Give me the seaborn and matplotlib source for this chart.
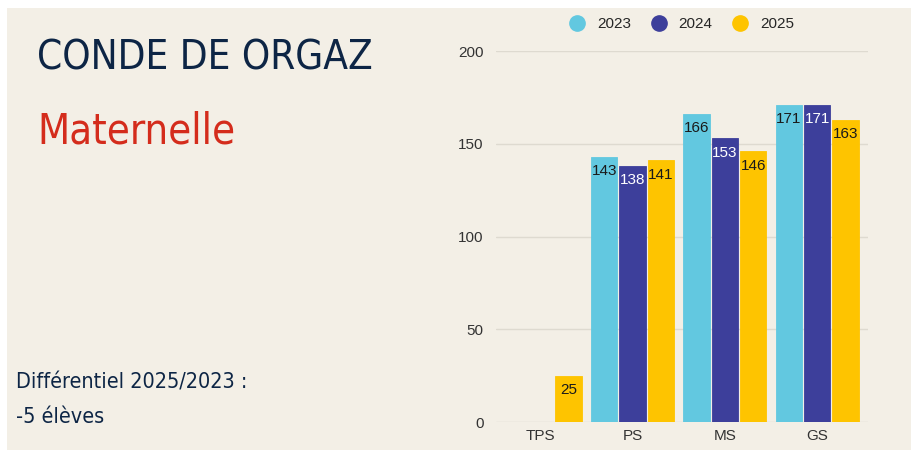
import matplotlib
matplotlib.use("Agg")
import matplotlib.pyplot as plt
from matplotlib.patches import Rectangle
from matplotlib.lines import Line2D
import seaborn as sns
import pandas as pd

categories = ["TPS", "PS", "MS", "GS"]
years = ["2023", "2024", "2025"]
v2023 = [0, 143, 166, 171]
v2024 = [0, 138, 153, 171]
v2025 = [25, 141, 146, 163]
yticks = [0, 50, 100, 150, 200]

colors = {"2023": "#62c8e0", "2024": "#3d3f9b", "2025": "#fec400"}
bg = "#f3efe6"

rows = []
for yr, vals in zip(years, [v2023, v2024, v2025]):
    for c, v in zip(categories, vals):
        rows.append({"niveau": c, "annee": yr, "eleves": v})
df = pd.DataFrame(rows)

sns.set_theme(style="white")
plt.rcParams["font.family"] = ["Liberation Sans", "DejaVu Sans"]

fig = plt.figure(figsize=(9.11, 4.5), dpi=100)
fig.patch.set_facecolor("white")
fig.patches.append(Rectangle((7 / 911, 0), 1, 442 / 450, transform=fig.transFigure,
                             facecolor=bg, edgecolor="none", zorder=-10))

ax = fig.add_axes([496 / 911, 28 / 450, 372 / 911, 371 / 450])
ax.set_facecolor(bg)
sns.barplot(data=df, x="niveau", y="eleves", hue="annee", palette=colors,
            order=categories, hue_order=years, width=0.92, gap=0.07,
            saturation=1, ax=ax, legend=False)

for cont, yr in zip(ax.containers, years):
    for bar in cont:
        h = bar.get_height()
        bar.set_edgecolor(bar.get_facecolor())
        bar.set_linewidth(0.6)
        if h <= 0:
            bar.set_visible(False)
            continue
        ax.text(bar.get_x() + bar.get_width() / 2, h - 4, str(int(h)),
                ha="center", va="top", fontsize=11,
                color="white" if yr == "2024" else "#1a1a1a")

ax.set_ylim(0, 200)
ax.set_xlim(-0.48, 3.55)
ax.set_yticks(yticks)
ax.set_yticklabels([str(t) for t in yticks], fontsize=11, color="#333333")
ax.tick_params(axis="x", labelsize=11, colors="#333333", length=0, pad=5)
ax.tick_params(axis="y", length=0, pad=9)
for lbl in ax.get_xticklabels():
    lbl.set_color("#333333")
ax.set_xlabel("")
ax.set_ylabel("")
ax.grid(axis="y", color="#dedad0", linewidth=1)
ax.set_axisbelow(True)
for s in ax.spines.values():
    s.set_visible(False)

handles = [Line2D([], [], marker="o", linestyle="", markersize=11,
                  markerfacecolor=colors[y], markeredgecolor=colors[y]) for y in years]
fig.legend(handles, years, loc="center", bbox_to_anchor=(678 / 911, 1 - 24 / 450),
           ncol=3, frameon=False, fontsize=11, handletextpad=0.3, columnspacing=0.8)

title_font = dict(family=["DejaVu Sans"], fontstretch="condensed", ha="left", va="center")
fig.text(37 / 911, 1 - 58 / 450, "CONDE DE ORGAZ", fontsize=29, color="#0d2545", **title_font)
fig.text(37 / 911, 1 - 132 / 450, "Maternelle", fontsize=30, color="#d42c1c", **title_font)
fig.text(16 / 911, 1 - 383 / 450, "Différentiel 2025/2023 :", fontsize=15.5, color="#0d2545", **title_font)
fig.text(16 / 911, 1 - 417 / 450, "-5 élèves", fontsize=15.5, color="#0d2545", **title_font)

fig.savefig("out.png", dpi=100, facecolor=fig.get_facecolor())
